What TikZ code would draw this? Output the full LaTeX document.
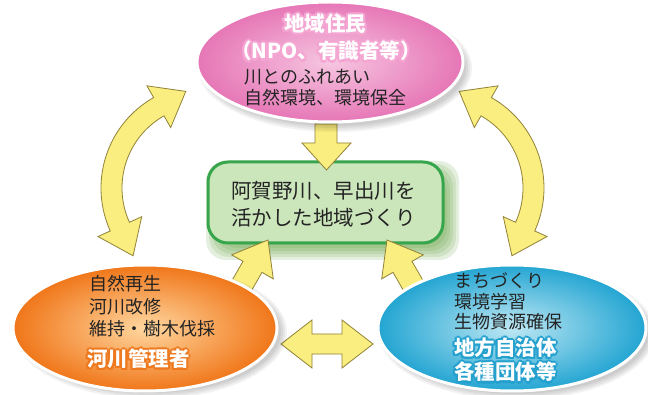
\documentclass[tikz,border=0pt]{standalone}
\usepackage{fontspec}
\newfontfamily\jp{Noto Sans CJK JP}
\usetikzlibrary{shapes.geometric,calc}
\definecolor{arrowfill}{RGB}{250,238,128}
\definecolor{arrowline}{RGB}{145,130,55}
\definecolor{boxfill}{RGB}{204,230,188}
\definecolor{boxline}{RGB}{55,165,75}
\definecolor{boxshadow}{RGB}{95,160,60}
\definecolor{pinkin}{RGB}{246,198,225}
\definecolor{pinkout}{RGB}{230,118,182}
\definecolor{pinkglow}{RGB}{244,165,210}
\definecolor{orangein}{RGB}{255,215,160}
\definecolor{orangeout}{RGB}{240,118,25}
\definecolor{orangeglow}{RGB}{238,120,30}
\definecolor{bluein}{RGB}{190,232,244}
\definecolor{blueout}{RGB}{35,165,210}
\definecolor{blueglow}{RGB}{35,160,205}
\definecolor{txt}{RGB}{35,35,35}
\tikzset{
 blockarrow/.style={fill=arrowfill, draw=arrowline, line width=0.8pt, line join=miter},
 bubble/.style={ellipse, draw=white, line width=3pt, shade, inner sep=0pt},
 body/.style={font=\jp\fontsize{18}{22}\selectfont, text=txt, inner sep=0pt, anchor=west},
 mainbody/.style={font=\jp\fontsize{20.5}{24}\selectfont, text=txt, inner sep=0pt, anchor=west},
 strong/.style={font=\jp\bfseries\fontsize{20.5}{24}\selectfont, inner sep=0pt},
 shadowlayer/.style={fill=black, opacity=0.05},
}
\newcommand\glowlabel[5]{%
  \foreach \ang in {0,45,...,315}{\node[strong, text=#4, anchor=#2] at ($(#3)+(\ang:2.2)$) {#5};}
  \node[strong, text=white, anchor=#2] (#1) at (#3) {#5};}
\newcommand\bendarrow{%
 \path[blockarrow] plot[domain=240.4:155.6, samples=40] ({205+83*cos(\x)},{188+83*sin(\x)})
  -- ($(205,188)+(155.6:69.5)$) -- ($(205,188)+(155.6:93.5)+(65.6:32)$) -- ($(205,188)+(155.6:117.5)$)
  -- plot[domain=155.6:240.4, samples=40] ({205+104*cos(\x)},{188+104*sin(\x)})
  -- ($(205,188)+(240.4:117.5)$) -- ($(205,188)+(240.4:93.5)+(330.4:31)$) -- ($(205,188)+(240.4:69.5)$) -- cycle;}
\newcommand\uparrowL{%
 \path[blockarrow] (268,240) -- (273.3,278.85) -- (262.0,272.35) -- (244.5,302.7) -- (225.5,291.7) -- (243.0,261.35) -- (231.7,254.85) -- cycle;}
\begin{document}
\begin{tikzpicture}[x=1pt,y=-1pt]
\fill[white] (0,0) rectangle (648,395);
\useasboundingbox (0,0) rectangle (648,395);
% box shadow
\foreach \f in {0,3,6,9,12,15}
  \fill[boxshadow, opacity=0.16, rounded corners=20pt] (221-\f,176-\f) rectangle (444+\f,245+\f);
% central box
\node[draw=boxline, fill=boxfill, line width=3pt, rounded corners=20pt, minimum width=235pt, minimum height=81pt] (goal) at (325.5,202.5) {};
\node[mainbody] (goal1) at (231,191) {阿賀野川、早出川を};
\node[mainbody] (goal2) at (231,218) {活かした地域づくり};
% arrows
\path[blockarrow] (315,124) -- (337,124) -- (337,143) -- (351,143) -- (326.5,170) -- (302,143) -- (315,143) -- cycle;
\uparrowL
\begin{scope}[shift={(655,0)}, xscale=-1]\uparrowL\end{scope}
\path[blockarrow] (281,344) -- (312,320) -- (312,334) -- (342,334) -- (342,320) -- (373,344) -- (342,368) -- (342,354) -- (312,354) -- (312,368) -- cycle;
\bendarrow
\begin{scope}[shift={(645,0)}, xscale=-1]\bendarrow\end{scope}
% bubble shadows
\foreach \e in {0,2,4,6} {
  \fill[shadowlayer] (335,68) ellipse [x radius=131+\e, y radius=58+\e];
  \fill[shadowlayer] (151,332) ellipse [x radius=130+\e, y radius=61+\e];
  \fill[shadowlayer] (517,333) ellipse [x radius=132+\e, y radius=61+\e];
}
% bubbles
\node[bubble, minimum width=266pt, minimum height=120pt, inner color=pinkin, outer color=pinkout] (resid) at (330,62) {};
\node[bubble, minimum width=264pt, minimum height=126pt, inner color=orangein, outer color=orangeout] (river) at (145,328) {};
\node[bubble, minimum width=268pt, minimum height=126pt, inner color=bluein, outer color=blueout] (local) at (512,328) {};
% texts
\glowlabel{resid1}{center}{325,24}{pinkglow}{地域住民}
\glowlabel{resid2}{center}{326,51}{pinkglow}{（NPO、有識者等）}
\node[body] (resid3) at (244,77) {川とのふれあい};
\node[body] (resid4) at (244,98) {自然環境、環境保全};
\node[body] (river1) at (89,284) {自然再生};
\node[body] (river2) at (89,307) {河川改修};
\node[body] (river3) at (89,329) {維持・樹木伐採};
\glowlabel{river4}{west}{87,359}{orangeglow}{河川管理者}
\node[body] (local1) at (454,281) {まちづくり};
\node[body] (local2) at (454,302) {環境学習};
\node[body] (local3) at (454,322) {生物資源確保};
\glowlabel{local4}{west}{454,348}{blueglow}{地方自治体}
\glowlabel{local5}{west}{454,372}{blueglow}{各種団体等}
\end{tikzpicture}
\end{document}
